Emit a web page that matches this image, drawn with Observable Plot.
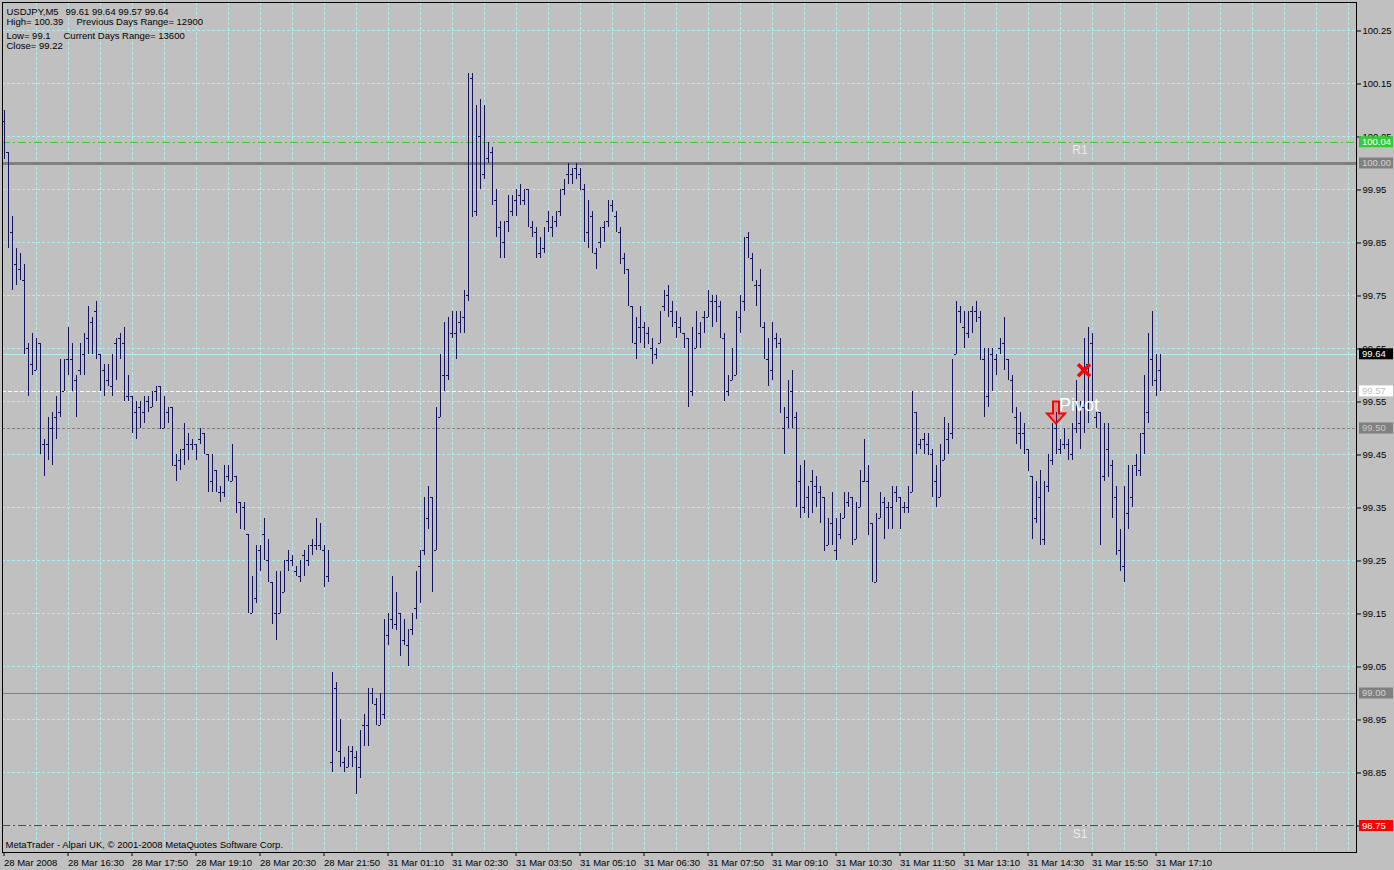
<!DOCTYPE html>
<html>
<head>
<meta charset="utf-8">
<script src="https://cdn.jsdelivr.net/npm/d3@7"></script>
<script src="https://cdn.jsdelivr.net/npm/@observablehq/plot@0.6"></script>
<style>
  html, body { margin: 0; padding: 0; background: #c0c0c0; overflow: hidden; }
  #chart svg { display: block; }
</style>
</head>
<body>
<div id="chart"></div>
<script>
// USDJPY M5 bars (one value per 5-minute bar)
const opens = [
  100.08, 100.02, 99.87, 99.81, 99.80, 99.78, 99.65, 99.62, 99.61, 99.66,
  99.47, 99.47, 99.50, 99.52, 99.53, 99.57, 99.63, 99.63, 99.59, 99.61,
  99.64, 99.67, 99.70, 99.72, 99.64, 99.61, 99.59, 99.58, 99.66, 99.67,
  99.66, 99.56, 99.56, 99.53, 99.54, 99.53, 99.55, 99.54, 99.57, 99.58,
  99.50, 99.53, 99.54, 99.43, 99.44, 99.46, 99.47, 99.47, 99.47, 99.48,
  99.49, 99.45, 99.40, 99.42, 99.38, 99.38, 99.41, 99.40, 99.41, 99.36,
  99.35, 99.30, 99.15, 99.18, 99.27, 99.30, 99.25, 99.21, 99.15, 99.15,
  99.19, 99.25, 99.25, 99.23, 99.22, 99.26, 99.25, 99.28, 99.28, 99.28,
  99.27, 99.22, 98.87, 99.01, 98.89, 98.87, 98.86, 98.89, 98.88, 98.86,
  98.94, 98.94, 99.00, 98.98, 98.94, 98.96, 99.11, 99.14, 99.13, 99.15,
  99.10, 99.09, 99.12, 99.16, 99.24, 99.27, 99.33, 99.37, 99.27, 99.52,
  99.60, 99.60, 99.68, 99.68, 99.70, 99.71, 99.75, 100.16, 99.91, 100.05,
  99.98, 100.01, 100.02, 99.93, 99.88, 99.85, 99.89, 99.91, 99.93, 99.94,
  99.93, 99.95, 99.88, 99.87, 99.83, 99.84, 99.89, 99.88, 99.89, 99.91,
  99.95, 99.98, 99.98, 99.99, 99.98, 99.95, 99.87, 99.90, 99.83, 99.85,
  99.88, 99.89, 99.92, 99.90, 99.87, 99.82, 99.80, 99.73, 99.66, 99.69,
  99.69, 99.68, 99.65, 99.64, 99.66, 99.73, 99.75, 99.72, 99.70, 99.69,
  99.68, 99.67, 99.57, 99.65, 99.68, 99.71, 99.71, 99.74, 99.74, 99.73,
  99.67, 99.57, 99.59, 99.60, 99.71, 99.74, 99.86, 99.82, 99.77, 99.77,
  99.69, 99.63, 99.61, 99.67, 99.66, 99.50, 99.52, 99.57, 99.52, 99.40,
  99.35, 99.37, 99.40, 99.39, 99.38, 99.37, 99.28, 99.32, 99.27, 99.30,
  99.33, 99.36, 99.37, 99.29, 99.35, 99.40, 99.40, 99.32, 99.21, 99.33,
  99.36, 99.35, 99.35, 99.38, 99.37, 99.35, 99.35, 99.38, 99.53, 99.47,
  99.48, 99.47, 99.45, 99.40, 99.37, 99.44, 99.48, 99.49, 99.64, 99.72,
  99.69, 99.68, 99.72, 99.72, 99.71, 99.63, 99.56, 99.64, 99.63, 99.65,
  99.66, 99.63, 99.59, 99.52, 99.49, 99.49, 99.46, 99.41, 99.33, 99.37,
  99.29, 99.39, 99.44, 99.50, 99.46, 99.47, 99.47, 99.45, 99.50, 99.51,
  99.54, 99.62, 99.66, 99.52, 99.53, 99.41, 99.46, 99.43, 99.37, 99.27,
  99.24, 99.34, 99.37, 99.43, 99.42, 99.49, 99.53, 99.63, 99.59, 99.61
];
const highs = [
  100.10, 100.02, 99.90, 99.84, 99.83, 99.81, 99.66, 99.68, 99.67, 99.66,
  99.48, 99.52, 99.53, 99.56, 99.63, 99.63, 99.69, 99.66, 99.60, 99.66,
  99.68, 99.73, 99.71, 99.74, 99.64, 99.62, 99.62, 99.64, 99.67, 99.68,
  99.69, 99.60, 99.56, 99.55, 99.55, 99.56, 99.56, 99.57, 99.58, 99.58,
  99.56, 99.54, 99.54, 99.45, 99.46, 99.51, 99.49, 99.48, 99.47, 99.50,
  99.49, 99.45, 99.45, 99.42, 99.39, 99.43, 99.43, 99.47, 99.41, 99.36,
  99.36, 99.30, 99.22, 99.28, 99.28, 99.33, 99.29, 99.21, 99.23, 99.23,
  99.25, 99.27, 99.26, 99.24, 99.25, 99.27, 99.28, 99.29, 99.33, 99.32,
  99.28, 99.27, 99.04, 99.02, 98.95, 98.88, 98.90, 98.90, 98.89, 98.93,
  98.96, 99.01, 99.01, 98.99, 99.00, 99.14, 99.15, 99.22, 99.19, 99.15,
  99.14, 99.12, 99.15, 99.23, 99.27, 99.37, 99.39, 99.37, 99.54, 99.64,
  99.70, 99.71, 99.72, 99.72, 99.72, 99.76, 100.17, 100.17, 100.11, 100.12,
  100.11, 100.04, 100.03, 99.95, 99.89, 99.89, 99.94, 99.94, 99.95, 99.96,
  99.95, 99.95, 99.89, 99.88, 99.86, 99.88, 99.91, 99.90, 99.91, 99.95,
  99.97, 100.00, 99.99, 100.00, 99.99, 99.96, 99.93, 99.91, 99.84, 99.88,
  99.89, 99.93, 99.93, 99.91, 99.88, 99.83, 99.80, 99.73, 99.71, 99.73,
  99.70, 99.69, 99.67, 99.65, 99.72, 99.76, 99.77, 99.74, 99.72, 99.71,
  99.68, 99.67, 99.69, 99.72, 99.70, 99.72, 99.76, 99.75, 99.75, 99.74,
  99.68, 99.60, 99.65, 99.72, 99.75, 99.86, 99.87, 99.83, 99.78, 99.80,
  99.70, 99.67, 99.70, 99.68, 99.67, 99.54, 99.59, 99.61, 99.53, 99.43,
  99.44, 99.39, 99.42, 99.41, 99.39, 99.37, 99.33, 99.38, 99.33, 99.34,
  99.38, 99.38, 99.37, 99.36, 99.42, 99.48, 99.43, 99.32, 99.34, 99.38,
  99.37, 99.36, 99.39, 99.39, 99.37, 99.36, 99.39, 99.57, 99.53, 99.48,
  99.49, 99.49, 99.46, 99.43, 99.47, 99.52, 99.51, 99.63, 99.74, 99.73,
  99.72, 99.72, 99.73, 99.74, 99.72, 99.65, 99.65, 99.65, 99.64, 99.67,
  99.71, 99.63, 99.60, 99.54, 99.53, 99.51, 99.46, 99.41, 99.40, 99.42,
  99.40, 99.45, 99.51, 99.53, 99.48, 99.50, 99.48, 99.51, 99.59, 99.55,
  99.67, 99.69, 99.68, 99.53, 99.53, 99.51, 99.51, 99.44, 99.39, 99.31,
  99.39, 99.43, 99.43, 99.45, 99.49, 99.60, 99.68, 99.72, 99.64, 99.64
];
const lows = [
  100.01, 99.84, 99.76, 99.77, 99.78, 99.64, 99.56, 99.60, 99.61, 99.45,
  99.41, 99.44, 99.43, 99.48, 99.52, 99.57, 99.60, 99.57, 99.52, 99.60,
  99.60, 99.64, 99.64, 99.63, 99.57, 99.56, 99.58, 99.56, 99.59, 99.63,
  99.55, 99.55, 99.49, 99.48, 99.50, 99.51, 99.53, 99.54, 99.55, 99.50,
  99.50, 99.51, 99.43, 99.40, 99.42, 99.43, 99.44, 99.46, 99.44, 99.47,
  99.45, 99.38, 99.38, 99.38, 99.36, 99.37, 99.40, 99.40, 99.34, 99.31,
  99.31, 99.15, 99.15, 99.17, 99.23, 99.25, 99.21, 99.13, 99.10, 99.15,
  99.19, 99.23, 99.24, 99.22, 99.21, 99.22, 99.24, 99.26, 99.27, 99.27,
  99.20, 99.21, 98.85, 98.89, 98.86, 98.85, 98.86, 98.86, 98.81, 98.84,
  98.90, 98.90, 98.98, 98.94, 98.94, 98.95, 99.09, 99.12, 99.12, 99.07,
  99.09, 99.05, 99.11, 99.14, 99.17, 99.26, 99.31, 99.19, 99.27, 99.52,
  99.57, 99.59, 99.67, 99.63, 99.68, 99.68, 99.74, 99.90, 99.90, 99.95,
  99.97, 100.00, 99.92, 99.86, 99.82, 99.82, 99.87, 99.90, 99.90, 99.92,
  99.92, 99.88, 99.86, 99.82, 99.82, 99.83, 99.87, 99.86, 99.88, 99.90,
  99.94, 99.96, 99.96, 99.97, 99.95, 99.85, 99.84, 99.83, 99.80, 99.84,
  99.85, 99.88, 99.91, 99.87, 99.81, 99.79, 99.73, 99.66, 99.63, 99.66,
  99.65, 99.66, 99.62, 99.63, 99.66, 99.72, 99.71, 99.69, 99.67, 99.68,
  99.65, 99.54, 99.56, 99.65, 99.65, 99.68, 99.71, 99.69, 99.70, 99.67,
  99.55, 99.56, 99.59, 99.60, 99.68, 99.72, 99.82, 99.78, 99.73, 99.69,
  99.63, 99.58, 99.59, 99.65, 99.53, 99.45, 99.50, 99.50, 99.35, 99.33,
  99.34, 99.33, 99.34, 99.35, 99.32, 99.27, 99.28, 99.28, 99.25, 99.29,
  99.33, 99.35, 99.28, 99.29, 99.35, 99.40, 99.30, 99.21, 99.21, 99.33,
  99.29, 99.31, 99.31, 99.36, 99.31, 99.34, 99.34, 99.38, 99.45, 99.46,
  99.45, 99.45, 99.37, 99.35, 99.37, 99.44, 99.45, 99.48, 99.64, 99.70,
  99.65, 99.67, 99.68, 99.70, 99.63, 99.52, 99.54, 99.57, 99.60, 99.64,
  99.61, 99.59, 99.53, 99.47, 99.46, 99.45, 99.42, 99.29, 99.32, 99.28,
  99.28, 99.38, 99.43, 99.45, 99.45, 99.46, 99.44, 99.44, 99.49, 99.46,
  99.49, 99.51, 99.55, 99.50, 99.28, 99.40, 99.41, 99.33, 99.26, 99.23,
  99.21, 99.31, 99.35, 99.41, 99.41, 99.45, 99.51, 99.58, 99.56, 99.57
];
const closes = [
  100.01, 99.86, 99.85, 99.81, 99.79, 99.66, 99.63, 99.62, 99.65, 99.48,
  99.46, 99.49, 99.52, 99.52, 99.58, 99.62, 99.64, 99.62, 99.60, 99.64,
  99.66, 99.71, 99.69, 99.64, 99.61, 99.59, 99.59, 99.61, 99.66, 99.66,
  99.56, 99.57, 99.54, 99.53, 99.54, 99.55, 99.55, 99.56, 99.57, 99.50,
  99.51, 99.53, 99.43, 99.42, 99.45, 99.50, 99.47, 99.46, 99.47, 99.48,
  99.46, 99.39, 99.43, 99.40, 99.38, 99.41, 99.41, 99.41, 99.35, 99.34,
  99.31, 99.16, 99.17, 99.27, 99.28, 99.26, 99.22, 99.14, 99.22, 99.22,
  99.20, 99.25, 99.26, 99.23, 99.25, 99.25, 99.26, 99.27, 99.31, 99.28,
  99.22, 99.23, 99.02, 98.91, 98.87, 98.86, 98.88, 98.89, 98.84, 98.93,
  98.95, 99.00, 98.99, 98.95, 98.97, 99.12, 99.13, 99.14, 99.12, 99.11,
  99.10, 99.11, 99.15, 99.23, 99.27, 99.32, 99.38, 99.26, 99.54, 99.59,
  99.60, 99.68, 99.69, 99.68, 99.70, 99.74, 100.17, 99.90, 100.04, 99.99,
  100.00, 100.03, 99.93, 99.94, 99.86, 99.88, 99.91, 99.92, 99.93, 99.94,
  99.95, 99.89, 99.87, 99.83, 99.85, 99.88, 99.89, 99.90, 99.90, 99.94,
  99.96, 99.98, 99.98, 99.99, 99.95, 99.88, 99.90, 99.84, 99.84, 99.87,
  99.88, 99.91, 99.91, 99.88, 99.82, 99.81, 99.74, 99.67, 99.68, 99.69,
  99.67, 99.66, 99.63, 99.65, 99.72, 99.75, 99.72, 99.71, 99.69, 99.69,
  99.66, 99.56, 99.64, 99.68, 99.70, 99.72, 99.74, 99.74, 99.73, 99.68,
  99.57, 99.58, 99.61, 99.71, 99.73, 99.86, 99.83, 99.78, 99.77, 99.70,
  99.64, 99.60, 99.67, 99.66, 99.53, 99.50, 99.58, 99.57, 99.39, 99.37,
  99.37, 99.36, 99.40, 99.38, 99.36, 99.27, 99.31, 99.29, 99.31, 99.32,
  99.37, 99.37, 99.30, 99.35, 99.39, 99.40, 99.30, 99.22, 99.33, 99.36,
  99.36, 99.34, 99.38, 99.38, 99.34, 99.35, 99.37, 99.54, 99.48, 99.47,
  99.47, 99.45, 99.41, 99.36, 99.44, 99.49, 99.49, 99.63, 99.72, 99.70,
  99.67, 99.71, 99.72, 99.72, 99.63, 99.54, 99.64, 99.62, 99.64, 99.66,
  99.64, 99.60, 99.53, 99.49, 99.49, 99.46, 99.42, 99.32, 99.38, 99.30,
  99.38, 99.43, 99.51, 99.46, 99.47, 99.47, 99.45, 99.50, 99.55, 99.54,
  99.64, 99.60, 99.56, 99.53, 99.40, 99.47, 99.41, 99.38, 99.27, 99.24,
  99.35, 99.42, 99.43, 99.43, 99.48, 99.53, 99.63, 99.64, 99.60, 99.64
];

// one label every 16 bars
const timeLabels = [
  "28 Mar 2008", "28 Mar 16:30", "28 Mar 17:50", "28 Mar 19:10", "28 Mar 20:30",
  "28 Mar 21:50", "31 Mar 01:10", "31 Mar 02:30", "31 Mar 03:50", "31 Mar 05:10",
  "31 Mar 06:30", "31 Mar 07:50", "31 Mar 09:10", "31 Mar 10:30", "31 Mar 11:50",
  "31 Mar 13:10", "31 Mar 14:30", "31 Mar 15:50", "31 Mar 17:10"
];
const priceTicks = [
  100.25, 100.15, 100.05, 99.95, 99.85, 99.75, 99.65, 99.55,
  99.45, 99.35, 99.25, 99.15, 99.05, 98.95, 98.85, 98.75
];

// levels on the chart
const r1 = 100.04, pivot = 99.57, s1 = 98.75;
const bid = 99.64;
const round100 = 100.00, half = 99.50, round99 = 99.00;
const levelNames = [["R1", r1], ["S1", s1]];

// signal objects
const arrowSignal = [{bar: 263, price: 99.53}];
const crossSignal = [{bar: 270, price: 99.61}];

const headerLeft = ["USDJPY,M5", "High= 100.39", "Low= 99.1", "Close= 99.22"];
const headerRight = ["99.61 99.64 99.57 99.64", "Previous Days Range= 12900", "Current Days Range= 13600"];
const copyright = "MetaTrader - Alpari UK, \u00a9 2001-2008 MetaQuotes Software Corp.";

const bars = opens.map((open, i) => ({i, open, high: highs[i], low: lows[i], close: closes[i]}));
const labelBars = timeLabels.map((_, k) => k * 16);
const gridBars = d3.range(8, 337, 8);

const font = "'Liberation Sans', Arial, sans-serif";
const gridColor = "#afeeee";
const barColor = "#14145a";
const crisp = {shapeRendering: "crispEdges"};

// hollow down arrow, the MetaTrader sell mark
const downArrow = {
  draw(ctx) {
    ctx.moveTo(-3, -11);
    ctx.lineTo(3, -11);
    ctx.lineTo(3, 1);
    ctx.lineTo(9, 1);
    ctx.lineTo(0, 11);
    ctx.lineTo(-9, 1);
    ctx.lineTo(-3, 1);
    ctx.closePath();
  }
};

const chart = Plot.plot({
  width: 1394,
  height: 870,
  marginTop: 2,
  marginLeft: 2,
  marginRight: 38,
  marginBottom: 18,
  style: {background: "#c0c0c0", color: "#000", fontFamily: font, fontSize: "9.5px"},
  x: {type: "linear", domain: [-0.375, 338.125]},
  y: {domain: [98.7, 100.30377]},
  marks: [
    // dotted grid
    Plot.ruleX(gridBars, {stroke: gridColor, strokeDasharray: "3,2", ...crisp}),
    Plot.ruleY(priceTicks, {stroke: gridColor, strokeDasharray: "3,2", ...crisp}),

    // level lines
    Plot.ruleY([r1], {stroke: "#32cd32", strokeDasharray: "8,3,2,3", ...crisp}),
    Plot.ruleY([round100], {stroke: "#808080", strokeWidth: 3, ...crisp}),
    Plot.ruleY([bid], {stroke: "#b4f0f0", ...crisp}),
    Plot.ruleY([pivot], {stroke: "#ffffff", strokeDasharray: "4,2", ...crisp}),
    Plot.ruleY([half], {stroke: "#808080", strokeDasharray: "3,2", ...crisp}),
    Plot.ruleY([round99], {stroke: "#808080", ...crisp}),
    Plot.ruleY([s1], {stroke: "#ff0000", strokeDasharray: "8,3,2,3", ...crisp}),

    // OHLC bars
    Plot.ruleX(bars, {x: "i", y1: "low", y2: "high", stroke: barColor, ...crisp}),
    Plot.ruleY(bars, {y: "open", x1: d => d.i - 0.375, x2: "i", stroke: barColor, ...crisp}),
    Plot.ruleY(bars, {y: "close", x1: "i", x2: d => d.i + 0.375, stroke: barColor, ...crisp}),

    // level captions
    Plot.text(levelNames, {x: () => 269, y: d => d[1], text: d => d[0], dy: 12, lineAnchor: "bottom", fill: "#ececec", fontSize: 12}),
    Plot.text([pivot], {x: () => 269, y: d => d, text: () => "Pivot", dy: 20, dx: -1, lineAnchor: "bottom", fill: "#ffffff", fontSize: 18}),

    // signals
    Plot.dot(arrowSignal, {x: "bar", y: "price", symbol: downArrow, fill: "#ff000040", stroke: "#ff0000", strokeWidth: 2}),
    Plot.dot(crossSignal, {x: "bar", y: "price", symbol: "times", r: 5.5, stroke: "#ff0000", strokeWidth: 3.5}),

    Plot.frame({stroke: "#000"}),

    // axes
    Plot.axisX({anchor: "bottom", ticks: labelBars, tickFormat: d => timeLabels[d / 16], tickSize: 4, tickPadding: 3, textAnchor: "start", label: null, fontSize: 9.5}),
    Plot.axisY({anchor: "right", ticks: priceTicks, tickFormat: d => d.toFixed(2), tickSize: 4, tickPadding: 2, label: null, fontSize: 9.5}),

    // header and footer texts
    Plot.text([headerLeft[0]], {frameAnchor: "top-left", dx: 4, dy: 12, textAnchor: "start", lineAnchor: "bottom", text: d => d, fontSize: 9.5}),
    Plot.text([headerRight[0]], {frameAnchor: "top-left", dx: 63, dy: 12, textAnchor: "start", lineAnchor: "bottom", text: d => d, fontSize: 9.5}),
    Plot.text([headerLeft[1]], {frameAnchor: "top-left", dx: 4, dy: 22.7, textAnchor: "start", lineAnchor: "bottom", text: d => d, fontSize: 9.5}),
    Plot.text([headerRight[1]], {frameAnchor: "top-left", dx: 74, dy: 22.7, textAnchor: "start", lineAnchor: "bottom", text: d => d, fontSize: 9.5}),
    Plot.text([headerLeft[2]], {frameAnchor: "top-left", dx: 4, dy: 36, textAnchor: "start", lineAnchor: "bottom", text: d => d, fontSize: 9.5}),
    Plot.text([headerRight[2]], {frameAnchor: "top-left", dx: 61, dy: 36, textAnchor: "start", lineAnchor: "bottom", text: d => d, fontSize: 9.5}),
    Plot.text([headerLeft[3]], {frameAnchor: "top-left", dx: 4, dy: 46.7, textAnchor: "start", lineAnchor: "bottom", text: d => d, fontSize: 9.5}),
    Plot.text([copyright], {frameAnchor: "bottom-left", dx: 3, dy: -4.5, textAnchor: "start", lineAnchor: "bottom", text: d => d, fontSize: 9.5})
  ]
});

// coloured price tags on the right scale
const tagStyles = [
  {price: r1, box: "#32cd32", ink: "#ffffff"},
  {price: round100, box: "#808080", ink: "#d3d3d3"},
  {price: bid, box: "#000000", ink: "#ffffff"},
  {price: pivot, box: "#ffffff", ink: "#c0c0c0"},
  {price: half, box: "#808080", ink: "#c8c8c8"},
  {price: round99, box: "#808080", ink: "#d3d3d3"},
  {price: s1, box: "#ff0000", ink: "#ffffff"}
];
const yScale = chart.scale("y");
const tagX = 1394 - 38 + 3;
const tags = d3.select(chart).append("g")
  .attr("font-family", font)
  .attr("font-size", 9.5)
  .attr("text-anchor", "start");
tagStyles.forEach(t => {
  const cy = yScale.apply(t.price);
  tags.append("rect").attr("x", tagX).attr("y", cy - 5.5).attr("width", 34).attr("height", 11).attr("fill", t.box);
  tags.append("text").attr("x", tagX + 3).attr("y", cy).attr("dy", "0.35em").attr("fill", t.ink).text(t.price.toFixed(2));
});

document.getElementById("chart").append(chart);
</script>
</body>
</html>
